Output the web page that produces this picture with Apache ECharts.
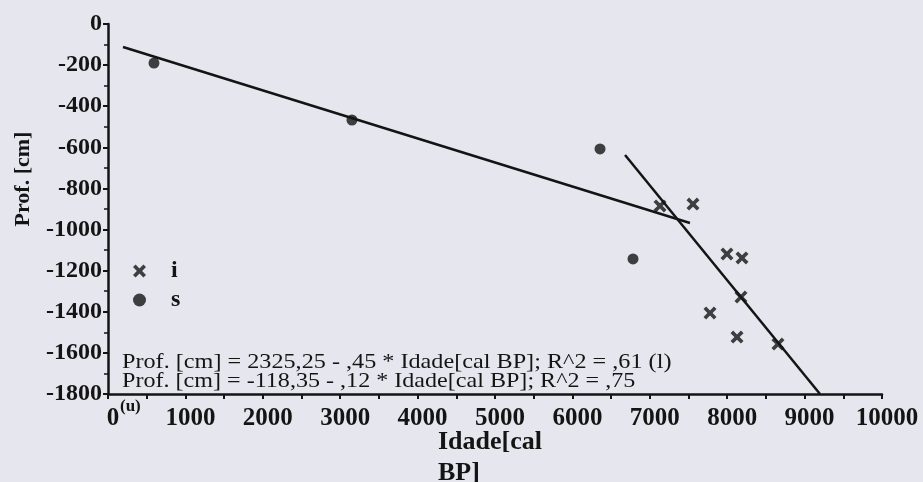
<!DOCTYPE html>
<html>
<head>
<meta charset="utf-8">
<script src="https://cdn.jsdelivr.net/npm/echarts@6/dist/echarts.min.js"></script>
<style>
html,body{margin:0;padding:0;background:#e6e6ee;}
#chart{width:923px;height:482px;}
</style>
</head>
<body>
<div id="chart"></div>
<script>
// ---- data ----
const xTicks = [0, 1000, 2000, 3000, 4000, 5000, 6000, 7000, 8000, 9000, 10000];
const yTicks = [0, -200, -400, -600, -800, -1000, -1200, -1400, -1600, -1800];
// series "i" (crosses): [Idade cal BP, Prof. cm]
const seriesI = [
  [7132, -885], [7558, -876], [7997, -1119], [8191, -1138],
  [8178, -1328], [7778, -1406], [8127, -1523], [8656, -1557]
];
// series "s" (filled circles)
const seriesS = [
  [594, -190], [3152, -467], [6357, -608], [6783, -1143]
];
// fitted lines (endpoints as drawn)
const lineS = [[194, -112], [7519, -968]];
const lineI = [[6680, -637], [9199, -1800]];
const eq1 = 'Prof. [cm] = 2325,25 - ,45 * Idade[cal BP]; R^2 = ,61 (l)';
const eq2 = 'Prof. [cm] = -118,35 - ,12 * Idade[cal BP]; R^2 = ,75';
const xName = ['Idade[cal', 'BP]'];
const yName = 'Prof. [cm]';

const crossPath = 'path://M0,2 L2,0 L5,3 L8,0 L10,2 L7,5 L10,8 L8,10 L5,7 L2,10 L0,8 L3,5 Z';
const serif = '"Liberation Serif","DejaVu Serif",serif';
const ink = '#141414';

const chart = echarts.init(document.getElementById('chart'));
chart.setOption({
  backgroundColor: '#e6e6ee',
  animation: false,
  grid: {left: 108, right: 41, top: 24, bottom: 88, containLabel: false},
  xAxis: {
    type: 'value', min: xTicks[0], max: xTicks[xTicks.length - 1], interval: 1000,
    axisLine: {show: true, onZero: false, lineStyle: {color: ink, width: 2.5}},
    axisTick: {show: true, inside: false, length: 5, lineStyle: {color: ink, width: 2}},
    minorTick: {show: true, splitNumber: 2, length: 5, lineStyle: {color: ink, width: 2}},
    splitLine: {show: false},
    axisLabel: {fontFamily: serif, fontWeight: 'bold', fontSize: 25, color: ink, margin: 12,
      padding: [0, 0, 0, 10], formatter: v => String(v)}
  },
  yAxis: {
    type: 'value', min: yTicks[yTicks.length - 1], max: yTicks[0], interval: 200,
    axisLine: {show: true, onZero: false, lineStyle: {color: ink, width: 2.5}},
    axisTick: {show: true, inside: false, length: 5, lineStyle: {color: ink, width: 2}},
    minorTick: {show: true, splitNumber: 2, length: 4, lineStyle: {color: ink, width: 1.5}},
    splitLine: {show: false},
    axisLabel: {fontFamily: serif, fontWeight: 'bold', fontSize: 24, color: ink, margin: 6,
      formatter: v => String(v)}
  },
  legend: {
    orient: 'vertical', left: 128, top: 253, itemWidth: 13, itemHeight: 13, itemGap: 3,
    data: [{name: 'i', icon: crossPath}, {name: 's', icon: 'circle'}],
    textStyle: {fontFamily: serif, fontWeight: 'bold', fontSize: 24, color: ink,
      lineHeight: 8, padding: [18, 0, 0, 20]},
    selectedMode: false
  },
  series: [
    {name: 'i', type: 'scatter', data: seriesI, symbol: crossPath, symbolSize: 13,
      itemStyle: {color: ink}},
    {name: 's', type: 'scatter', data: seriesS, symbol: 'circle', symbolSize: 11,
      itemStyle: {color: ink}},
    {name: 'fit s', type: 'line', data: lineS, showSymbol: false, symbol: 'none',
      lineStyle: {color: ink, width: 2.5}, silent: true},
    {name: 'fit i', type: 'line', data: lineI, showSymbol: false, symbol: 'none',
      lineStyle: {color: ink, width: 2.5}, silent: true}
  ],
  graphic: [
    {type: 'text', x: 122, y: 351, scaleX: 1.1,
      style: {text: eq1, font: '22px ' + serif, fill: ink, textVerticalAlign: 'top'}},
    {type: 'text', x: 122, y: 370, scaleX: 1.095,
      style: {text: eq2, font: '22px ' + serif, fill: ink, textVerticalAlign: 'top'}},
    {type: 'text', x: 120, y: 398,
      style: {text: '(u)', font: 'bold 17px ' + serif, fill: ink, textVerticalAlign: 'top'}},
    {type: 'text', x: 438, y: 442,
      style: {text: xName[0], font: 'bold 26px ' + serif, fill: ink, textVerticalAlign: 'middle'}},
    {type: 'text', x: 438, y: 473,
      style: {text: xName[1], font: 'bold 26px ' + serif, fill: ink, textVerticalAlign: 'middle'}},
    {type: 'text', x: 23, y: 179, rotation: Math.PI / 2,
      style: {text: yName, font: 'bold 22px ' + serif, fill: ink, align: 'center', verticalAlign: 'middle'}}
  ]
});
</script>
</body>
</html>
